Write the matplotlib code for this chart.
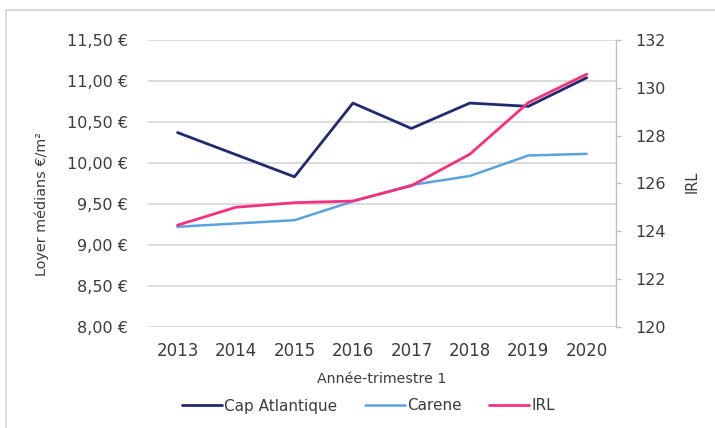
import matplotlib
matplotlib.use("Agg")
import matplotlib.pyplot as plt
from matplotlib.patches import Rectangle

years = ["2013", "2014", "2015", "2016", "2017", "2018", "2019", "2020"]
cap_atlantique = [10.37, 10.10, 9.83, 10.73, 10.42, 10.73, 10.69, 11.04]
carene = [9.22, 9.26, 9.30, 9.53, 9.73, 9.84, 10.09, 10.11]
irl = [124.25, 125.00, 125.19, 125.26, 125.90, 127.22, 129.38, 130.57]

left_ticks = [8.00, 8.50, 9.00, 9.50, 10.00, 10.50, 11.00, 11.50]
left_labels = ["8,00 €", "8,50 €", "9,00 €", "9,50 €", "10,00 €", "10,50 €", "11,00 €", "11,50 €"]
right_ticks = [120, 122, 124, 126, 128, 130, 132]

plt.rcParams['font.family'] = ['DejaVu Sans']
TXT = '#3c3c3c'

W, H = 715, 428
fig = plt.figure(figsize=(W / 100, H / 100), dpi=100)

# light frame
fig.patches.append(Rectangle((6 / W, -0.1), 1.2, 1 - 10 / H + 0.1, transform=fig.transFigure,
                             fill=False, edgecolor='#d4d4d4', linewidth=1.2))

l, r, t, b = 148.3, 616, 40, 326.7
ax = fig.add_axes([l / W, 1 - b / H, (r - l) / W, (b - t) / H])
ax2 = ax.twinx()

x = list(range(len(years)))
h1, = ax.plot(x, cap_atlantique, color='#222a6e', lw=2.0, label='Cap Atlantique', zorder=3, solid_capstyle='round')
h2, = ax.plot(x, carene, color='#5aa2e0', lw=1.8, label='Carene', zorder=2, solid_capstyle='round')
h3, = ax2.plot(x, irl, color='#f5317f', lw=2.0, label='IRL', zorder=2, solid_capstyle='round')

ax.set_xlim(-0.5, len(years) - 0.5)
ax.set_ylim(8.0, 11.5)
ax2.set_ylim(120, 132)

ax.set_yticks(left_ticks)
ax.set_yticklabels(left_labels)
ax2.set_yticks(right_ticks)
ax.set_xticks(x)
ax.set_xticklabels(years)

ax.yaxis.grid(True, color='#d9d9d9', lw=1.3)
ax.set_axisbelow(True)
for s in ax.spines.values():
    s.set_visible(False)
for name, s in ax2.spines.items():
    s.set_visible(name == 'right')
ax2.spines['right'].set_color('#bfbfbf')
ax2.spines['right'].set_linewidth(1.0)

ax.tick_params(axis='y', length=0, pad=14.4, labelsize=11.5, labelcolor=TXT)
ax.tick_params(axis='x', length=0, pad=11, labelsize=12, labelcolor=TXT)
ax2.tick_params(axis='y', length=3.6, width=1, color='#bfbfbf', pad=10, labelsize=11.5, labelcolor=TXT)

fig.text(382 / W, 1 - 379 / H, 'Année-trimestre 1', ha='center', va='center', fontsize=10.2, color=TXT)
fig.text(42 / W, 1 - 204 / H, 'Loyer médians €/m²', ha='center', va='center', rotation=90, fontsize=10.4, color=TXT)
fig.text(692 / W, 1 - 182 / H, 'IRL', ha='center', va='center', rotation=90, fontsize=10.5, color=TXT)

leg = fig.legend(handles=[h1, h2, h3], loc='center', bbox_to_anchor=(368.5 / W, 1 - 406 / H), ncol=3,
                 frameon=False, fontsize=11, handlelength=2.6, handletextpad=0.15, columnspacing=1.8,
                 borderpad=0, borderaxespad=0)
for txt in leg.get_texts():
    txt.set_color(TXT)

fig.savefig('out.png', dpi=100)
